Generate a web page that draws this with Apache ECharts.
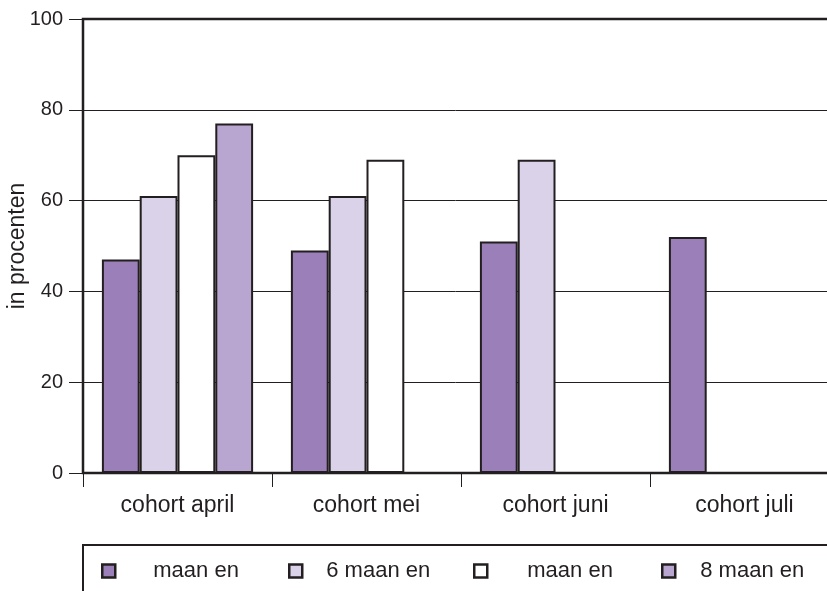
<!DOCTYPE html>
<html>
<head>
<meta charset="utf-8">
<script src="https://cdn.jsdelivr.net/npm/echarts@6/dist/echarts.min.js"></script>
<style>
html,body{margin:0;padding:0;background:#fff;}
#chart{width:827px;height:591px;}
</style>
</head>
<body>
<div id="chart"></div>
<script>
var categories = ['cohort april', 'cohort mei', 'cohort juni', 'cohort juli'];
var seriesLabels = ['maan en', '6 maan en', 'maan en', '8 maan en'];
var seriesA = [47, 49, 51, 52];
var seriesB = [61, 61, 69, null];
var seriesC = [70, 69, null, null];
var seriesD = [77, null, null, null];
var yTicks = [0, 20, 40, 60, 80, 100];

var colors = ['#9b7fb9', '#dad2e8', '#ffffff', '#b9a6d0'];
var ink = '#231f20';
var font = '"Liberation Sans", Arial, sans-serif';
var allSeries = [seriesA, seriesB, seriesC, seriesD];
var ids = ['s0', 's1', 's2', 's3'];

var legendLeft = [101, 288, 473, 661];
var legendPad = [33, 19, 35, 20];

var chart = echarts.init(document.getElementById('chart'), null, {renderer: 'canvas'});

var option = {
  animation: false,
  backgroundColor: '#ffffff',
  textStyle: {fontFamily: font, color: ink},
  grid: {
    left: 83, top: 19, right: -12, bottom: 118,
    containLabel: false,
    outerBoundsMode: 'none',
    show: true, borderColor: ink, borderWidth: 2.5, backgroundColor: 'transparent'
  },
  xAxis: {
    type: 'category',
    data: categories,
    axisLine: {lineStyle: {color: ink, width: 2}},
    axisTick: {show: true, length: 14, lineStyle: {color: ink, width: 1}},
    axisLabel: {fontSize: 23, color: ink, margin: 21, fontFamily: font}
  },
  yAxis: {
    type: 'value',
    min: yTicks[0], max: yTicks[yTicks.length - 1], interval: 20,
    name: 'in procenten',
    nameLocation: 'middle',
    nameGap: 54,
    nameMoveOverlap: false,
    nameTextStyle: {fontSize: 23, color: ink, fontFamily: font},
    axisLine: {show: true, lineStyle: {color: ink, width: 2}},
    axisTick: {show: true, length: 14, lineStyle: {color: ink, width: 1}},
    axisLabel: {fontSize: 20, color: ink, margin: 20, fontFamily: font},
    splitLine: {show: true, lineStyle: {color: ink, width: 1}}
  },
  legend: ids.map(function (id, i) {
    return {
      data: [id],
      left: legendLeft[i],
      top: 560,
      padding: 0,
      icon: 'rect',
      itemWidth: 13,
      itemHeight: 13,
      selectedMode: false,
      itemStyle: {borderColor: ink, borderWidth: 2.5},
      formatter: function () { return '{s| }{t|' + seriesLabels[i] + '}'; },
      textStyle: {
        color: ink, fontFamily: font, fontSize: 22,
        rich: {
          s: {width: legendPad[i], fontSize: 22, fontFamily: font},
          t: {fontSize: 22, color: ink, fontFamily: font}
        }
      }
    };
  }),
  graphic: [{
    type: 'rect',
    shape: {x: 83, y: 545, width: 800, height: 100},
    style: {fill: 'none', stroke: ink, lineWidth: 2},
    silent: true
  }],
  series: ids.map(function (id, i) {
    return {
      name: id,
      type: 'bar',
      data: allSeries[i].map(function (v) { return v === null ? '-' : v; }),
      barGap: '0%',
      barCategoryGap: '20%',
      itemStyle: {color: colors[i], borderColor: ink, borderWidth: 2}
    };
  })
};

chart.setOption(option);
</script>
</body>
</html>
